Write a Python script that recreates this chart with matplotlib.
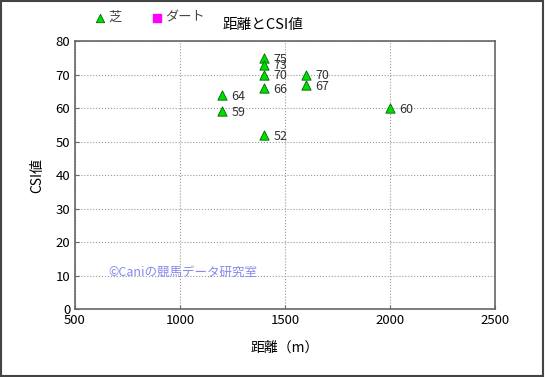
import matplotlib
matplotlib.use("Agg")
import matplotlib.pyplot as plt
from matplotlib.patches import Rectangle

plt.rcParams['font.family'] = ['Noto Sans CJK JP', 'DejaVu Sans']

turf_dist = [1400, 1400, 1400, 1400, 1400, 1600, 1600, 1200, 1200, 2000]
turf_csi = [75, 73, 70, 66, 52, 70, 67, 64, 59, 60]
dirt_dist = []
dirt_csi = []

title = "距離とCSI値"
xlabel = "距離（m）"
ylabel = "CSI値"
watermark = "©Caniの競馬データ研究室"

fig = plt.figure(figsize=(5.45, 3.77), dpi=100)
ax = fig.add_axes([0.1376, 0.180, 0.908 - 0.1376, 0.891 - 0.180])

ax.scatter(turf_dist, turf_csi, marker='^', s=45, color='#00dd00',
           edgecolors='#006600', linewidths=0.6, zorder=3, label='芝')
ax.scatter(dirt_dist, dirt_csi, marker='s', s=40, color='#ff00ff',
           zorder=3, label='ダート')

for x, y in zip(turf_dist, turf_csi):
    ax.annotate(str(y), (x, y), xytext=(7, -1), textcoords='offset points',
                fontsize=9, color='#333333', va='center', ha='left')

ax.set_xlim(500, 2500)
ax.set_ylim(0, 80)
ax.set_xticks([500, 1000, 1500, 2000, 2500])
ax.set_yticks(range(0, 81, 10))
ax.grid(True, color='#999999', linestyle=':', linewidth=0.8)
ax.tick_params(labelsize=9.5, length=3, direction='in', color='#666666')
for sp in ax.spines.values():
    sp.set_color('#666666')
    sp.set_linewidth(1.2)

ax.set_xlabel(xlabel, fontsize=10, labelpad=10)
ax.set_ylabel(ylabel, fontsize=10, labelpad=8)

fig.text(0.483, 0.935, title, fontsize=10.5, ha='center', va='center')

leg = fig.legend(loc='upper left', bbox_to_anchor=(0.155, 0.995), ncol=2,
                 frameon=False, fontsize=9.5, handletextpad=0.1,
                 handlelength=1.0, columnspacing=2.2, markerscale=0.9,
                 labelcolor='#444444', borderpad=0.2)

ax.text(660, 11, watermark, fontsize=9, color='#8888ee', va='center', ha='left')

fig.patches.append(Rectangle((0.002, 0.003), 0.995, 0.994, transform=fig.transFigure,
                             fill=False, edgecolor='#444444', linewidth=1.5))

fig.savefig('out.png', dpi=100)
